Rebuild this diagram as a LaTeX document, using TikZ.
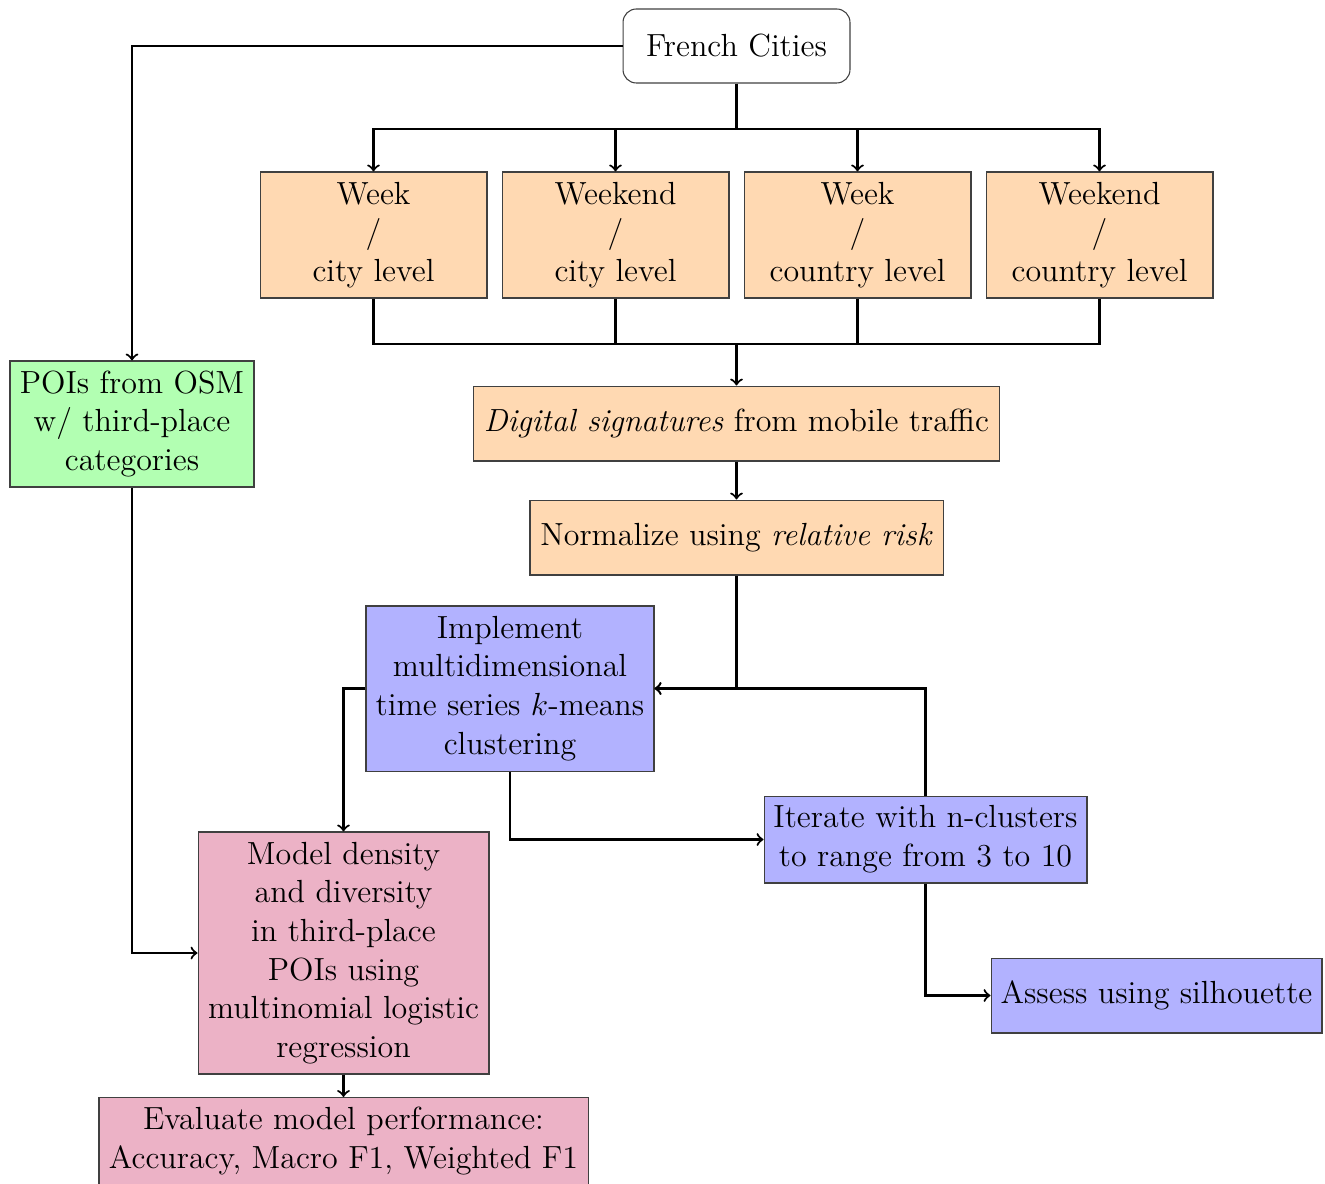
\documentclass[tikz,border=0pt]{standalone}
\begin{document}
\begin{tikzpicture}[x=0.375pt,y=-0.375pt,
  base/.style={draw=black!75, line width=0.4pt, align=center, inner sep=1pt,
    font=\fontsize{12}{14.5}\selectfont},
  obox/.style={base, fill=orange!30},
  gbox/.style={base, fill=green!30},
  bbox/.style={base, fill=blue!30},
  pbox/.style={base, fill=purple!30},
  tree/.style={line width=0.8pt},
  link/.style={line width=0.8pt, ->}]
\useasboundingbox (0,0) rectangle (1325,1184);

\node[base, rounded corners=5pt, minimum width=85.1pt, minimum height=27.75pt] (fc) at (736.5,46) {French Cities};
\node[obox, minimum width=85.1pt, minimum height=47.25pt] (b1) at (373.5,235) {Week\\/\\city level};
\node[obox, minimum width=85.1pt, minimum height=47.25pt] (b2) at (615.5,235) {Weekend\\/\\city level};
\node[obox, minimum width=85.1pt, minimum height=47.25pt] (b3) at (857.5,235) {Week\\/\\country level};
\node[obox, minimum width=85.1pt, minimum height=47.25pt] (b4) at (1099.5,235) {Weekend\\/\\country level};
\node[gbox, minimum width=91.5pt, minimum height=47.25pt] (pois) at (132,424) {POIs from OSM\\w/ third-place\\categories};
\node[obox, minimum width=197.25pt, minimum height=28.1pt] (dig) at (736.5,423.5) {\textit{Digital signatures} from mobile traffic};
\node[obox, minimum width=154.9pt, minimum height=28.1pt] (norm) at (736.5,537.5) {Normalize using \textit{relative risk}};
\node[bbox, minimum width=108pt, minimum height=61.9pt] (impl) at (510,688.5) {Implement\\multidimensional\\time series $k$-means\\clustering};
\node[bbox, minimum width=121.1pt, minimum height=32.6pt] (iter) at (925.5,839.5) {Iterate with n-clusters\\to range from 3 to 10};
\node[bbox, minimum width=124.1pt, minimum height=28.1pt] (assess) at (1156.5,995.5) {Assess using silhouette};
\node[pbox, minimum width=109.1pt, minimum height=90.75pt] (model) at (343.5,953) {Model density\\and diversity\\in third-place\\POIs using\\multinomial logistic\\regression};
\node[pbox, minimum width=183.4pt, minimum height=32.6pt] (eval) at (343.5,1141) {Evaluate model performance:\\Accuracy, Macro F1, Weighted F1};

\coordinate (split) at (736.5,129);
\coordinate (join) at (736.5,344);
\draw[tree] (fc.south) -- (split);
\foreach \b in {b1,b2,b3,b4}{
  \draw[tree,->] (split) -| (\b.north);
  \draw[tree] (\b.south) |- (join);
}
\draw[tree,->] (join) -- (dig.north);
\draw[link] (fc.west) -| (pois.north);
\draw[link] (dig) -- (norm);
\draw[link] (norm.south) |- (impl.east);
\draw[link] (iter.north) |- (impl.east);
\draw[link] (impl.south) |- (iter.west);
\draw[link] (impl.west) -| (model.north);
\draw[link] (pois.south) |- (model.west);
\draw[link] (iter.south) |- (assess.west);
\draw[link] (model) -- (eval);
\end{tikzpicture}
\end{document}
